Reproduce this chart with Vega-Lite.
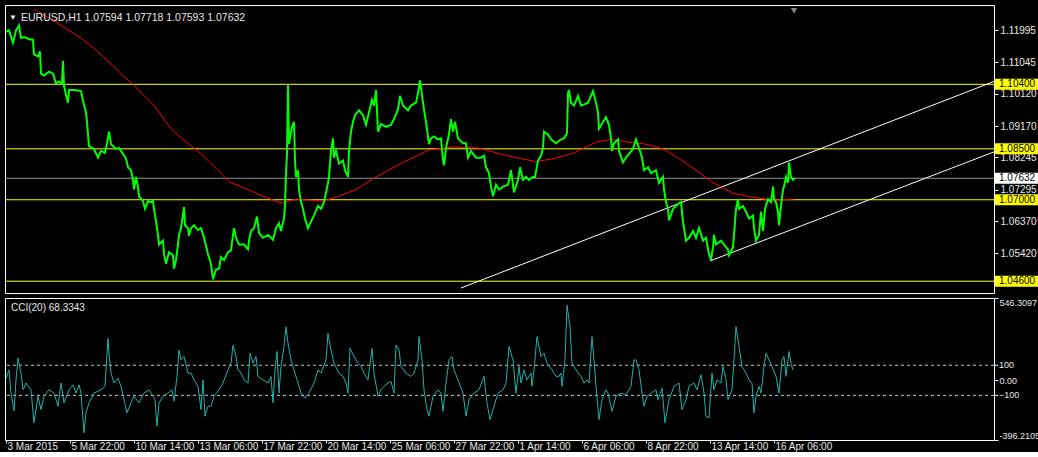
{
  "$schema": "https://vega.github.io/schema/vega-lite/v6.json",
  "background": "#000000",
  "padding": {"left": 4, "top": 4, "right": 0, "bottom": 0},
  "config": {
    "view": {"stroke": "#ffffff", "strokeWidth": 1, "fill": "#000000"},
    "concat": {"spacing": 3},
    "axis": {"labelFont": "Liberation Sans", "labelFontSize": 10, "labelColor": "#e8e8e8", "tickColor": "#ffffff", "domain": false, "grid": false, "labelOverlap": false}
  },
  "datasets": {
    "price": [
      {"i":0,"p":1.11944},{"i":3,"p":1.11992},{"i":7,"p":1.11623},{"i":10,"p":1.11992},{"i":13,"p":1.12134},{"i":15,"p":1.11765},{"i":18,"p":1.11793},{"i":23,"p":1.11736},{"i":27,"p":1.11708},{"i":28,"p":1.11281},{"i":32,"p":1.11225},{"i":34,"p":1.11367},{"i":35,"p":1.10713},{"i":38,"p":1.10656},{"i":43,"p":1.1077},{"i":47,"p":1.10713},{"i":50,"p":1.10428},{"i":53,"p":1.10485},{"i":56,"p":1.10428},{"i":57,"p":1.11082},{"i":58,"p":1.10372},{"i":60,"p":1.10087},{"i":62,"p":1.0986},{"i":63,"p":1.10229},{"i":68,"p":1.10229},{"i":75,"p":1.10201},{"i":77,"p":1.09917},{"i":80,"p":1.09575},{"i":81,"p":1.09291},{"i":82,"p":1.08921},{"i":83,"p":1.0858},{"i":88,"p":1.08495},{"i":92,"p":1.08239},{"i":95,"p":1.08438},{"i":99,"p":1.08381},{"i":101,"p":1.08666},{"i":103,"p":1.09007},{"i":105,"p":1.08637},{"i":110,"p":1.08495},{"i":113,"p":1.08523},{"i":117,"p":1.08353},{"i":120,"p":1.08211},{"i":122,"p":1.07955},{"i":125,"p":1.07869},{"i":127,"p":1.07585},{"i":128,"p":1.07301},{"i":130,"p":1.0767},{"i":132,"p":1.07386},{"i":133,"p":1.07102},{"i":137,"p":1.0696},{"i":139,"p":1.06732},{"i":142,"p":1.0696},{"i":145,"p":1.06931},{"i":147,"p":1.0696},{"i":148,"p":1.06732},{"i":150,"p":1.06362},{"i":152,"p":1.05964},{"i":153,"p":1.0568},{"i":157,"p":1.05794},{"i":158,"p":1.05396},{"i":160,"p":1.05111},{"i":163,"p":1.05453},{"i":167,"p":1.05367},{"i":168,"p":1.04969},{"i":170,"p":1.05225},{"i":172,"p":1.0568},{"i":173,"p":1.05964},{"i":175,"p":1.06163},{"i":178,"p":1.06789},{"i":179,"p":1.06249},{"i":182,"p":1.06163},{"i":183,"p":1.05936},{"i":185,"p":1.06163},{"i":188,"p":1.06249},{"i":192,"p":1.06107},{"i":195,"p":1.06163},{"i":198,"p":1.05879},{"i":202,"p":1.05396},{"i":205,"p":1.05111},{"i":207,"p":1.04657},{"i":210,"p":1.04941},{"i":213,"p":1.04969},{"i":215,"p":1.0531},{"i":218,"p":1.05225},{"i":222,"p":1.05453},{"i":225,"p":1.0551},{"i":227,"p":1.05964},{"i":228,"p":1.06163},{"i":230,"p":1.05879},{"i":233,"p":1.0568},{"i":238,"p":1.0568},{"i":242,"p":1.05538},{"i":243,"p":1.05794},{"i":245,"p":1.06078},{"i":248,"p":1.06163},{"i":251,"p":1.06505},{"i":253,"p":1.06021},{"i":257,"p":1.05879},{"i":262,"p":1.05964},{"i":267,"p":1.05822},{"i":270,"p":1.06163},{"i":273,"p":1.06306},{"i":275,"p":1.06078},{"i":278,"p":1.06448},{"i":279,"p":1.06817},{"i":280,"p":1.07784},{"i":281,"p":1.08353},{"i":282,"p":1.10372},{"i":283,"p":1.08637},{"i":286,"p":1.09149},{"i":288,"p":1.09291},{"i":289,"p":1.08154},{"i":290,"p":1.0767},{"i":292,"p":1.07869},{"i":293,"p":1.07301},{"i":295,"p":1.06931},{"i":297,"p":1.06732},{"i":299,"p":1.06448},{"i":302,"p":1.06163},{"i":305,"p":1.06362},{"i":308,"p":1.06533},{"i":312,"p":1.06817},{"i":315,"p":1.06732},{"i":318,"p":1.06931},{"i":322,"p":1.075},{"i":323,"p":1.0767},{"i":325,"p":1.08438},{"i":327,"p":1.08808},{"i":328,"p":1.08239},{"i":330,"p":1.08438},{"i":333,"p":1.08068},{"i":337,"p":1.08154},{"i":339,"p":1.07869},{"i":342,"p":1.0767},{"i":343,"p":1.08438},{"i":345,"p":1.09007},{"i":347,"p":1.09291},{"i":349,"p":1.0949},{"i":353,"p":1.09632},{"i":357,"p":1.0949},{"i":360,"p":1.09206},{"i":363,"p":1.09575},{"i":366,"p":1.09945},{"i":368,"p":1.09774},{"i":370,"p":1.10229},{"i":372,"p":1.09007},{"i":375,"p":1.09234},{"i":380,"p":1.09149},{"i":385,"p":1.09206},{"i":388,"p":1.09376},{"i":392,"p":1.09661},{"i":394,"p":1.10059},{"i":397,"p":1.09774},{"i":402,"p":1.09632},{"i":405,"p":1.09774},{"i":410,"p":1.0986},{"i":412,"p":1.10144},{"i":414,"p":1.10514},{"i":416,"p":1.10059},{"i":418,"p":1.09661},{"i":420,"p":1.09291},{"i":423,"p":1.08637},{"i":425,"p":1.08808},{"i":428,"p":1.08865},{"i":432,"p":1.08779},{"i":435,"p":1.08808},{"i":437,"p":1.08154},{"i":438,"p":1.08012},{"i":440,"p":1.08523},{"i":443,"p":1.08921},{"i":445,"p":1.09376},{"i":447,"p":1.09007},{"i":449,"p":1.09291},{"i":452,"p":1.08808},{"i":457,"p":1.08666},{"i":460,"p":1.08666},{"i":462,"p":1.08239},{"i":465,"p":1.08438},{"i":470,"p":1.08239},{"i":475,"p":1.08239},{"i":478,"p":1.08296},{"i":480,"p":1.07955},{"i":483,"p":1.07784},{"i":485,"p":1.07386},{"i":487,"p":1.07102},{"i":490,"p":1.07443},{"i":493,"p":1.07301},{"i":497,"p":1.07386},{"i":502,"p":1.07443},{"i":505,"p":1.07869},{"i":508,"p":1.07215},{"i":512,"p":1.07585},{"i":514,"p":1.07955},{"i":517,"p":1.07585},{"i":520,"p":1.0767},{"i":523,"p":1.07585},{"i":527,"p":1.0767},{"i":529,"p":1.0767},{"i":532,"p":1.08154},{"i":535,"p":1.08296},{"i":537,"p":1.08523},{"i":538,"p":1.09007},{"i":542,"p":1.08921},{"i":545,"p":1.08779},{"i":550,"p":1.08666},{"i":555,"p":1.08779},{"i":558,"p":1.08808},{"i":561,"p":1.0895},{"i":562,"p":1.10144},{"i":563,"p":1.10229},{"i":565,"p":1.0986},{"i":568,"p":1.09774},{"i":572,"p":1.10059},{"i":575,"p":1.09774},{"i":578,"p":1.09803},{"i":582,"p":1.0986},{"i":585,"p":1.10059},{"i":587,"p":1.10201},{"i":590,"p":1.0986},{"i":592,"p":1.09575},{"i":593,"p":1.09092},{"i":597,"p":1.09291},{"i":600,"p":1.09433},{"i":603,"p":1.09206},{"i":605,"p":1.08808},{"i":606,"p":1.08438},{"i":608,"p":1.08666},{"i":612,"p":1.08779},{"i":613,"p":1.08438},{"i":617,"p":1.08097},{"i":620,"p":1.08239},{"i":623,"p":1.08353},{"i":627,"p":1.08495},{"i":630,"p":1.08779},{"i":633,"p":1.08523},{"i":636,"p":1.08239},{"i":638,"p":1.07869},{"i":642,"p":1.07955},{"i":645,"p":1.07784},{"i":650,"p":1.07869},{"i":653,"p":1.075},{"i":657,"p":1.0767},{"i":658,"p":1.07301},{"i":660,"p":1.06931},{"i":662,"p":1.06732},{"i":663,"p":1.06391},{"i":667,"p":1.06732},{"i":672,"p":1.06874},{"i":675,"p":1.06931},{"i":677,"p":1.06362},{"i":678,"p":1.06163},{"i":680,"p":1.05794},{"i":683,"p":1.05879},{"i":687,"p":1.06078},{"i":690,"p":1.05879},{"i":693,"p":1.06163},{"i":697,"p":1.05794},{"i":700,"p":1.05879},{"i":703,"p":1.05396},{"i":705,"p":1.05225},{"i":707,"p":1.05595},{"i":708,"p":1.05964},{"i":710,"p":1.0568},{"i":715,"p":1.05794},{"i":718,"p":1.0568},{"i":722,"p":1.05538},{"i":723,"p":1.05367},{"i":727,"p":1.05595},{"i":728,"p":1.05964},{"i":730,"p":1.06732},{"i":732,"p":1.07016},{"i":733,"p":1.06732},{"i":737,"p":1.06817},{"i":740,"p":1.06647},{"i":743,"p":1.06448},{"i":747,"p":1.06533},{"i":748,"p":1.06163},{"i":750,"p":1.05794},{"i":753,"p":1.05964},{"i":755,"p":1.06647},{"i":757,"p":1.06078},{"i":759,"p":1.06732},{"i":762,"p":1.07016},{"i":765,"p":1.06931},{"i":767,"p":1.07386},{"i":768,"p":1.07016},{"i":770,"p":1.06931},{"i":772,"p":1.06647},{"i":773,"p":1.06249},{"i":775,"p":1.06817},{"i":777,"p":1.07301},{"i":778,"p":1.07386},{"i":780,"p":1.0767},{"i":782,"p":1.075},{"i":783,"p":1.08097},{"i":785,"p":1.0767},{"i":787,"p":1.07585},{"i":789,"p":1.07632}
    ],
    "ma": [
      {"i":28,"p":1.12618},{"i":52,"p":1.12191},{"i":75,"p":1.11765},{"i":95,"p":1.11281},{"i":115,"p":1.10713},{"i":128,"p":1.10372},{"i":148,"p":1.09774},{"i":165,"p":1.09092},{"i":178,"p":1.08751},{"i":194,"p":1.08381},{"i":210,"p":1.07926},{"i":223,"p":1.07528},{"i":242,"p":1.07301},{"i":257,"p":1.07102},{"i":275,"p":1.06903},{"i":290,"p":1.07016},{"i":305,"p":1.06988},{"i":317,"p":1.0696},{"i":330,"p":1.07073},{"i":350,"p":1.07301},{"i":370,"p":1.0767},{"i":395,"p":1.08068},{"i":423,"p":1.08467},{"i":447,"p":1.08552},{"i":473,"p":1.08523},{"i":490,"p":1.08381},{"i":510,"p":1.08239},{"i":530,"p":1.08125},{"i":548,"p":1.08211},{"i":568,"p":1.08381},{"i":590,"p":1.08694},{"i":605,"p":1.08779},{"i":623,"p":1.08694},{"i":640,"p":1.08637},{"i":657,"p":1.08495},{"i":673,"p":1.08211},{"i":690,"p":1.07869},{"i":707,"p":1.075},{"i":727,"p":1.07187},{"i":747,"p":1.07073},{"i":767,"p":1.06988},{"i":787,"p":1.07016}
    ],
    "channel": [
      {"line":"upper","i":455,"p":1.044},{"line":"upper","i":988,"p":1.10485},
      {"line":"lower","i":704,"p":1.05197},{"line":"lower","i":988,"p":1.0841}
    ],
    "levels": [
      {"p":1.104,"kind":"level"},{"p":1.085,"kind":"level"},{"p":1.07,"kind":"level"},{"p":1.046,"kind":"level"},{"p":1.07632,"kind":"bid"}
    ],
    "cci": [
      {"i":0,"v":14},{"i":3,"v":69},{"i":5,"v":-85},{"i":8,"v":-203},{"i":10,"v":3},{"i":12,"v":147},{"i":15,"v":48},{"i":17,"v":-63},{"i":20,"v":-18},{"i":25,"v":-63},{"i":28,"v":-282},{"i":32,"v":-106},{"i":35,"v":-195},{"i":38,"v":-106},{"i":43,"v":-63},{"i":48,"v":-85},{"i":52,"v":-172},{"i":55,"v":-18},{"i":58,"v":-150},{"i":63,"v":-63},{"i":67,"v":-30},{"i":70,"v":-85},{"i":73,"v":-30},{"i":75,"v":-85},{"i":78,"v":-348},{"i":80,"v":-216},{"i":83,"v":-150},{"i":88,"v":-85},{"i":95,"v":-63},{"i":99,"v":-40},{"i":102,"v":278},{"i":103,"v":180},{"i":105,"v":48},{"i":108,"v":-18},{"i":112,"v":14},{"i":115,"v":-40},{"i":118,"v":-129},{"i":121,"v":-216},{"i":125,"v":-150},{"i":128,"v":-106},{"i":133,"v":-150},{"i":138,"v":-85},{"i":143,"v":-63},{"i":147,"v":-106},{"i":149,"v":-129},{"i":151,"v":-304},{"i":153,"v":-150},{"i":157,"v":-106},{"i":162,"v":-85},{"i":166,"v":-63},{"i":168,"v":-139},{"i":171,"v":26},{"i":173,"v":201},{"i":175,"v":135},{"i":178,"v":158},{"i":182,"v":48},{"i":185,"v":48},{"i":188,"v":3},{"i":192,"v":-40},{"i":195,"v":-195},{"i":197,"v":3},{"i":199,"v":-238},{"i":202,"v":-172},{"i":205,"v":-172},{"i":208,"v":-106},{"i":213,"v":-63},{"i":217,"v":-18},{"i":222,"v":69},{"i":225,"v":114},{"i":227,"v":234},{"i":230,"v":158},{"i":232,"v":69},{"i":235,"v":48},{"i":238,"v":3},{"i":242,"v":-18},{"i":244,"v":180},{"i":247,"v":114},{"i":250,"v":158},{"i":252,"v":26},{"i":257,"v":3},{"i":262,"v":-18},{"i":265,"v":26},{"i":267,"v":-150},{"i":269,"v":69},{"i":271,"v":191},{"i":273,"v":-85},{"i":275,"v":92},{"i":278,"v":224},{"i":280,"v":356},{"i":282,"v":246},{"i":285,"v":135},{"i":288,"v":69},{"i":292,"v":-18},{"i":295,"v":-85},{"i":299,"v":-117},{"i":303,"v":-85},{"i":308,"v":-18},{"i":312,"v":69},{"i":315,"v":48},{"i":320,"v":135},{"i":322,"v":312},{"i":325,"v":201},{"i":328,"v":114},{"i":333,"v":48},{"i":337,"v":26},{"i":340,"v":-18},{"i":342,"v":-85},{"i":344,"v":212},{"i":348,"v":158},{"i":352,"v":114},{"i":355,"v":92},{"i":358,"v":48},{"i":362,"v":3},{"i":366,"v":212},{"i":368,"v":48},{"i":372,"v":-106},{"i":375,"v":-63},{"i":378,"v":-40},{"i":382,"v":-18},{"i":385,"v":-7},{"i":388,"v":-85},{"i":390,"v":234},{"i":393,"v":201},{"i":395,"v":92},{"i":400,"v":48},{"i":405,"v":26},{"i":408,"v":48},{"i":412,"v":135},{"i":413,"v":290},{"i":416,"v":135},{"i":418,"v":-63},{"i":421,"v":-195},{"i":423,"v":-238},{"i":427,"v":-106},{"i":432,"v":-63},{"i":435,"v":-85},{"i":437,"v":-205},{"i":440,"v":-18},{"i":443,"v":135},{"i":446,"v":158},{"i":448,"v":69},{"i":452,"v":3},{"i":457,"v":-85},{"i":460,"v":-238},{"i":463,"v":-129},{"i":468,"v":-85},{"i":473,"v":-63},{"i":478,"v":26},{"i":481,"v":-150},{"i":484,"v":-261},{"i":488,"v":-172},{"i":492,"v":-85},{"i":497,"v":-63},{"i":500,"v":-18},{"i":503,"v":224},{"i":507,"v":135},{"i":510,"v":-85},{"i":513,"v":92},{"i":515,"v":-18},{"i":518,"v":69},{"i":521,"v":3},{"i":525,"v":48},{"i":526,"v":-40},{"i":528,"v":69},{"i":531,"v":290},{"i":535,"v":158},{"i":538,"v":180},{"i":541,"v":114},{"i":546,"v":69},{"i":550,"v":26},{"i":553,"v":26},{"i":555,"v":48},{"i":556,"v":-40},{"i":559,"v":135},{"i":561,"v":498},{"i":564,"v":356},{"i":566,"v":114},{"i":570,"v":69},{"i":575,"v":26},{"i":578,"v":-18},{"i":581,"v":3},{"i":583,"v":-18},{"i":586,"v":290},{"i":588,"v":135},{"i":590,"v":-40},{"i":593,"v":-261},{"i":596,"v":-129},{"i":600,"v":-63},{"i":602,"v":-85},{"i":606,"v":-205},{"i":610,"v":-106},{"i":615,"v":-85},{"i":620,"v":-96},{"i":625,"v":-40},{"i":628,"v":135},{"i":630,"v":135},{"i":633,"v":69},{"i":636,"v":-85},{"i":638,"v":-172},{"i":641,"v":-106},{"i":645,"v":-85},{"i":650,"v":-63},{"i":652,"v":-129},{"i":656,"v":-52},{"i":659,"v":-282},{"i":663,"v":-129},{"i":668,"v":-40},{"i":673,"v":-18},{"i":676,"v":-195},{"i":680,"v":-129},{"i":683,"v":-40},{"i":688,"v":-18},{"i":691,"v":-63},{"i":695,"v":37},{"i":698,"v":-85},{"i":700,"v":-238},{"i":703,"v":-249},{"i":706,"v":48},{"i":708,"v":-63},{"i":711,"v":3},{"i":715,"v":-18},{"i":717,"v":92},{"i":720,"v":3},{"i":722,"v":-129},{"i":726,"v":-63},{"i":728,"v":135},{"i":730,"v":356},{"i":733,"v":224},{"i":736,"v":92},{"i":740,"v":48},{"i":743,"v":3},{"i":746,"v":-18},{"i":748,"v":-216},{"i":750,"v":-106},{"i":753,"v":-40},{"i":755,"v":-85},{"i":758,"v":92},{"i":760,"v":180},{"i":763,"v":135},{"i":766,"v":92},{"i":770,"v":26},{"i":773,"v":-85},{"i":776,"v":135},{"i":778,"v":158},{"i":780,"v":26},{"i":783,"v":191},{"i":785,"v":114},{"i":787,"v":68.33}
    ],
    "cciLevels": [{"v":100},{"v":-100}]
  },
  "vconcat": [
    {
      "width": 989,
      "height": 288,
      "layer": [
        {
          "data": {"name": "levels"},
          "mark": {"type": "rule", "strokeWidth": 1},
          "encoding": {
            "y": {"field": "p", "type": "quantitative",
              "scale": {"domain": [1.044, 1.12589], "nice": false, "zero": false},
              "axis": {"orient": "right", "values": [1.11995, 1.11045, 1.1012, 1.0917, 1.08245, 1.07295, 1.0637, 1.0542], "format": ".5f", "tickSize": 4, "labelPadding": 2, "title": null, "labelOverlap": false}},
            "color": {"condition": {"test": "datum.kind == 'bid'", "value": "#8a929c"}, "value": "#ffff00"}
          }
        },
        {
          "data": {"name": "channel"},
          "mark": {"type": "line", "color": "#ffffff", "strokeWidth": 1, "clip": true},
          "encoding": {
            "x": {"field": "i", "type": "quantitative", "scale": {"domain": [-1, 988], "nice": false, "zero": false}, "axis": null},
            "y": {"field": "p", "type": "quantitative"},
            "detail": {"field": "line"}
          }
        },
        {
          "data": {"name": "ma"},
          "mark": {"type": "line", "color": "#ff0000", "strokeWidth": 1, "clip": true},
          "encoding": {
            "x": {"field": "i", "type": "quantitative"},
            "y": {"field": "p", "type": "quantitative"}
          }
        },
        {
          "data": {"name": "price"},
          "mark": {"type": "line", "color": "#00ff00", "strokeWidth": 2, "clip": true},
          "encoding": {
            "x": {"field": "i", "type": "quantitative"},
            "y": {"field": "p", "type": "quantitative"}
          }
        },
        {
          "data": {"name": "levels"},
          "mark": {"type": "bar", "orient": "horizontal", "height": 11},
          "encoding": {
            "x": {"datum": 989, "type": "quantitative"},
            "x2": {"datum": 1032},
            "y": {"field": "p", "type": "quantitative"},
            "color": {"condition": {"test": "datum.kind == 'bid'", "value": "#ffffff"}, "value": "#ffff00"}
          }
        },
        {
          "data": {"name": "levels"},
          "mark": {"type": "text", "align": "left", "baseline": "middle", "font": "Liberation Sans", "fontSize": 10, "color": "#000000", "dx": 1},
          "encoding": {
            "x": {"datum": 992, "type": "quantitative"},
            "y": {"field": "p", "type": "quantitative"},
            "text": {"field": "p", "type": "quantitative", "format": ".5f"}
          }
        },
        {
          "data": {"values": [{"t": "EURUSD,H1  1.07594 1.07718 1.07593 1.07632"}]},
          "mark": {"type": "text", "align": "left", "baseline": "middle", "font": "Liberation Sans", "fontSize": 10.5, "color": "#e8e8e8"},
          "encoding": {
            "x": {"datum": 15, "type": "quantitative"},
            "y": {"datum": 1.12362, "type": "quantitative"},
            "text": {"field": "t"}
          }
        },
        {
          "data": {"values": [{"m": "menu"}]},
          "mark": {"type": "point", "shape": "triangle-down", "filled": true, "size": 24, "color": "#ffffff", "opacity": 1},
          "encoding": {
            "x": {"datum": 7, "type": "quantitative"},
            "y": {"datum": 1.12362, "type": "quantitative"}
          }
        },
        {
          "data": {"values": [{"m": "shift"}]},
          "mark": {"type": "point", "shape": "triangle-down", "filled": true, "size": 40, "color": "#7d8b99", "opacity": 1},
          "encoding": {
            "x": {"datum": 788, "type": "quantitative"},
            "y": {"datum": 1.1257, "type": "quantitative"}
          }
        }
      ]
    },
    {
      "width": 989,
      "height": 142,
      "layer": [
        {
          "data": {"name": "cciLevels"},
          "mark": {"type": "rule", "color": "#c8c8c8", "strokeWidth": 1, "strokeDash": [3, 3]},
          "encoding": {
            "y": {"field": "v", "type": "quantitative",
              "scale": {"domain": [-396.2105, 546.3097], "nice": false, "zero": false},
              "axis": {"orient": "right", "values": [546.3097, 0, -396.2105], "labelOverlap": false, "labelFontSize": 9, "tickSize": 4, "labelPadding": 1, "title": null,
                "labelBaseline": {"condition": [{"test": "datum.value > 500", "value": "top"}, {"test": "datum.value < -300", "value": "bottom"}], "value": "middle"},
                "labelExpr": "datum.value == 0 ? '0.00' : datum.value > 0 ? '546.3097' : '-396.2105'"}}
          }
        },
        {
          "data": {"name": "cciLevels"},
          "mark": {"type": "rule", "color": "#ffffff", "strokeWidth": 1},
          "encoding": {
            "x": {"datum": 988.5, "type": "quantitative"},
            "x2": {"datum": 992},
            "y": {"field": "v", "type": "quantitative"}
          }
        },
        {
          "data": {"name": "cciLevels"},
          "mark": {"type": "text", "align": "left", "baseline": "middle", "font": "Liberation Sans", "fontSize": 9, "color": "#e8e8e8", "dx": 1},
          "encoding": {
            "x": {"datum": 992, "type": "quantitative"},
            "y": {"field": "v", "type": "quantitative"},
            "text": {"field": "v", "type": "quantitative", "format": "d"}
          }
        },
        {
          "data": {"name": "cci"},
          "mark": {"type": "line", "color": "#20b2aa", "strokeWidth": 1, "clip": true},
          "encoding": {
            "x": {"field": "i", "type": "quantitative",
              "scale": {"domain": [-1, 988], "nice": false, "zero": false},
              "axis": {"orient": "bottom", "values": [0, 64, 128, 192, 256, 320, 384, 448, 512, 576, 640, 704, 768], "tickSize": 3, "labelPadding": -2, "labelAlign": "left", "labelOffset": 1, "title": null, "labelOverlap": false,
                "labelExpr": "['3 Mar 2015','5 Mar 22:00','10 Mar 14:00','13 Mar 06:00','17 Mar 22:00','20 Mar 14:00','25 Mar 06:00','27 Mar 22:00','1 Apr 14:00','6 Apr 06:00','8 Apr 22:00','13 Apr 14:00','16 Apr 06:00'][round(datum.value / 64)]"}},
            "y": {"field": "v", "type": "quantitative"}
          }
        },
        {
          "data": {"values": [{"t": "CCI(20) 68.3343"}]},
          "mark": {"type": "text", "align": "left", "baseline": "middle", "font": "Liberation Sans", "fontSize": 10, "color": "#e8e8e8"},
          "encoding": {
            "x": {"datum": 5, "type": "quantitative"},
            "y": {"datum": 483, "type": "quantitative"},
            "text": {"field": "t"}
          }
        }
      ]
    }
  ]
}
